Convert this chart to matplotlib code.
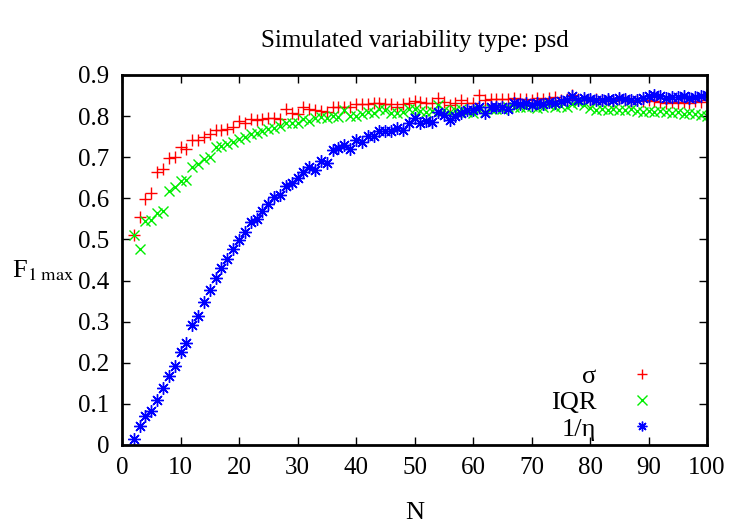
import numpy as np
import matplotlib
matplotlib.use('Agg')
import matplotlib.pyplot as plt

# N = 2 .. 100
N = np.arange(2, 101)

sigma = [0.510, 0.555, 0.598, 0.612, 0.663, 0.672, 0.697, 0.701, 0.724, 0.719,
         0.741, 0.741, 0.750, 0.757, 0.766, 0.767, 0.769, 0.773, 0.787, 0.784,
         0.794, 0.791, 0.794, 0.795, 0.795, 0.793, 0.818, 0.807, 0.806, 0.823,
         0.817, 0.815, 0.813, 0.810, 0.821, 0.821, 0.823, 0.821, 0.829, 0.829,
         0.829, 0.833, 0.833, 0.830, 0.829, 0.823, 0.829, 0.833, 0.837, 0.835,
         0.831, 0.833, 0.844, 0.835, 0.827, 0.833, 0.839, 0.831, 0.833, 0.852,
         0.838, 0.841, 0.841, 0.842, 0.841, 0.844, 0.841,
         0.842, 0.840, 0.845, 0.841, 0.843, 0.846, 0.840, 0.842, 0.852, 0.841,
         0.840, 0.838, 0.841, 0.838, 0.840, 0.837, 0.841, 0.839, 0.836, 0.838,
         0.837, 0.839, 0.836, 0.834, 0.833, 0.835, 0.832, 0.834, 0.833, 0.836,
         0.834, 0.838]

iqr = [0.510, 0.476, 0.545, 0.547, 0.564, 0.568, 0.618, 0.628, 0.641, 0.645,
       0.676, 0.684, 0.696, 0.701, 0.724, 0.727, 0.732, 0.738, 0.745, 0.750,
       0.757, 0.760, 0.764, 0.768, 0.772, 0.775, 0.782, 0.784, 0.782, 0.793,
       0.788, 0.795, 0.797, 0.795, 0.799, 0.797, 0.815, 0.801, 0.801, 0.805,
       0.810, 0.808, 0.818, 0.815, 0.807, 0.808, 0.810, 0.817, 0.817, 0.813,
       0.810, 0.813, 0.827, 0.815, 0.810, 0.815, 0.818, 0.810, 0.807, 0.815,
       0.810, 0.817, 0.818, 0.818, 0.823, 0.823, 0.823,
       0.822, 0.825, 0.820, 0.823, 0.826, 0.822, 0.824, 0.821, 0.830, 0.835,
       0.827, 0.820, 0.815, 0.818, 0.816, 0.817, 0.814, 0.816, 0.818, 0.812,
       0.811, 0.813, 0.810, 0.812, 0.811, 0.808, 0.810, 0.806, 0.808, 0.805,
       0.803, 0.801]

inv_eta = [0.014, 0.045, 0.071, 0.083, 0.109, 0.139, 0.168, 0.193, 0.226, 0.247,
           0.291, 0.313, 0.347, 0.376, 0.406, 0.431, 0.453, 0.476, 0.499, 0.518,
           0.543, 0.549, 0.568, 0.586, 0.604, 0.608, 0.630, 0.637, 0.650, 0.663,
           0.676, 0.669, 0.691, 0.685, 0.718, 0.722, 0.730, 0.720, 0.742, 0.736,
           0.752, 0.752, 0.764, 0.764, 0.764, 0.770, 0.767, 0.784, 0.795, 0.784,
           0.788, 0.786, 0.811, 0.802, 0.791, 0.799, 0.807, 0.815, 0.815, 0.823,
           0.807, 0.823, 0.823, 0.823, 0.817, 0.831, 0.830,
           0.832, 0.828, 0.833, 0.830, 0.834, 0.832, 0.836, 0.838, 0.848, 0.839,
           0.843, 0.841, 0.838, 0.840, 0.842, 0.839, 0.843, 0.842, 0.840, 0.838,
           0.844, 0.849, 0.851, 0.848, 0.845, 0.847, 0.846, 0.848, 0.845, 0.847,
           0.849, 0.852]

xticks = np.arange(0, 101, 10)
yticks = np.arange(0, 0.91, 0.1)

plt.rcParams['font.family'] = ['Liberation Serif', 'DejaVu Serif']
plt.rcParams['mathtext.fontset'] = 'stix'

fig = plt.figure(figsize=(7.5, 5.25), dpi=100)
ax = fig.add_axes([0.1627, 0.1524, 0.7800, 0.7048])

ax.plot(N, sigma, linestyle='none', marker='+', color='#ff0000',
        markersize=8, markeredgewidth=1.0, label='σ')
ax.plot(N, iqr, linestyle='none', marker='x', color='#00ee00',
        markersize=7, markeredgewidth=1.0, label='IQR')
ax.plot(N, inv_eta, linestyle='none', marker=(8, 2, 0), color='#0000ff',
        markersize=9, markeredgewidth=1.0, label='1/η')

ax.set_xlim(0, 100)
ax.set_ylim(0, 0.9)
ax.set_xticks(xticks)
ax.set_yticks(yticks)
ax.set_yticklabels(['0'] + ['%.1f' % v for v in yticks[1:]])
ax.tick_params(direction='in', top=True, right=True, length=6, width=1,
               labelsize=18, pad=9)
for s in ax.spines.values():
    s.set_linewidth(2)

ax.set_title('Simulated variability type: psd', fontsize=18, pad=20)
ax.set_xlabel('N', fontsize=19, labelpad=16)
ax.set_ylabel(r'F$_{\mathrm{1\ max}}$', fontsize=19, rotation=0, labelpad=32,
              va='center')
ax.yaxis.set_label_coords(-0.135, 0.47)

leg = ax.legend(loc='lower right', markerfirst=False, frameon=False,
                fontsize=19, handlelength=1.0, handletextpad=1.25,
                labelspacing=0.1, borderaxespad=0.0, borderpad=0.0,
                bbox_to_anchor=(0.912, 0.012))
for h in leg.legend_handles:
    h.set_markersize(7)

fig.savefig('out.png', dpi=100)
